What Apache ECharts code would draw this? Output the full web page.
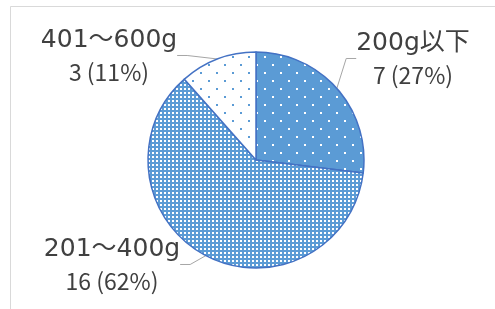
<!DOCTYPE html>
<html>
<head>
<meta charset="utf-8">
<script src="https://cdn.jsdelivr.net/npm/echarts@6/dist/echarts.min.js"></script>
<style>
  html, body { margin: 0; padding: 0; background: #fff; }
  #main { width: 495px; height: 309px; }
</style>
</head>
<body>
<div id="main"></div>
<script>
// 重さの区分と件数
const categories = ['200g以下', '201～400g', '401～600g'];
const counts = [7, 16, 3];

// ラベルの位置（中心）
const labelPos = [[413, 59], [112, 265], [109, 56]];

// 塗りつぶしパターン
function dotPattern(bg, dot, size, pts, d) {
  const c = document.createElement('canvas');
  c.width = size;
  c.height = size;
  const ctx = c.getContext('2d');
  ctx.fillStyle = bg;
  ctx.fillRect(0, 0, size, size);
  ctx.fillStyle = dot;
  pts.forEach(p => ctx.fillRect(p[0], p[1], d, d));
  return { image: c, repeat: 'repeat' };
}
const blue = '#5B9BD5';
const patterns = [
  dotPattern(blue, '#ffffff', 16, [[0, 0], [8, 8]], 2),   // まばらな白点
  dotPattern(blue, '#ffffff', 4, [[0, 0]], 2),            // 細かい白点
  dotPattern('#ffffff', blue, 16, [[0, 0], [8, 8]], 2)    // 白地に青点
];

const chart = echarts.init(document.getElementById('main'));
const option = {
  backgroundColor: '#ffffff',
  animation: false,
  graphic: [{
    type: 'rect',
    shape: { x: 10.5, y: 6.5, width: 500, height: 320 },
    style: { fill: 'none', stroke: '#D9D9D9', lineWidth: 1 },
    silent: true
  }],
  series: [{
    type: 'pie',
    center: [256, 160],
    radius: 108,
    startAngle: 90,
    clockwise: true,
    percentPrecision: 0,
    data: categories.map((name, i) => ({
      name: name,
      value: counts[i],
      itemStyle: { color: patterns[i] }
    })),
    itemStyle: {
      borderColor: '#4472C4',
      borderWidth: 1.5
    },
    label: {
      show: true,
      formatter: '{a|{b}}\n{b|{c} ({d}%)}',
      rich: {
        a: {
          fontFamily: '"DejaVu Sans", "Noto Sans CJK JP"',
          fontSize: 25,
          color: '#404040',
          lineHeight: 32,
          align: 'center'
        },
        b: {
          fontFamily: 'Noto Sans CJK JP',
          fontSize: 23,
          color: '#404040',
          lineHeight: 32,
          align: 'center'
        }
      }
    },
    labelLine: {
      show: true,
      length: 10,
      length2: 10,
      lineStyle: { color: '#A6A6A6', width: 1 }
    },
    labelLayout: function (params) {
      const p = labelPos[params.dataIndex];
      return { x: p[0], y: p[1], align: 'center', verticalAlign: 'middle' };
    }
  }]
};
chart.setOption(option);
</script>
</body>
</html>
